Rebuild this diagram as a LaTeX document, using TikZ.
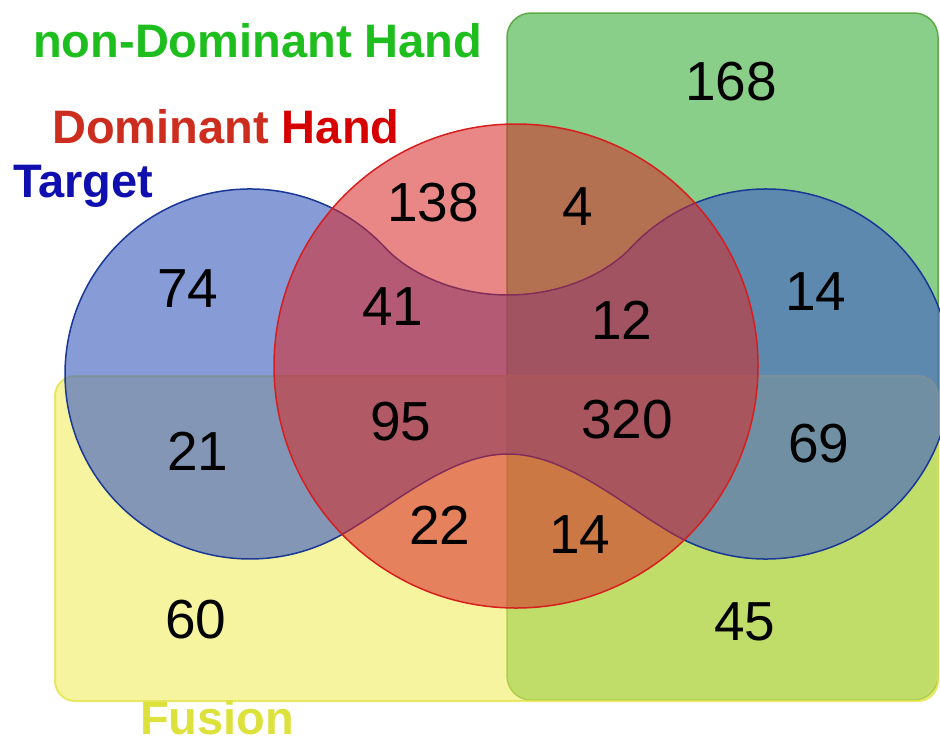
\documentclass[tikz,border=0pt]{standalone}
\usepackage{fontspec}
\setmainfont{Liberation Sans}
\definecolor{gfill}{RGB}{58,173,58}
\definecolor{gline}{RGB}{95,170,70}
\definecolor{yfill}{RGB}{240,235,80}
\definecolor{yline}{RGB}{228,228,75}
\definecolor{bfill}{RGB}{71,101,194}
\definecolor{bline}{RGB}{25,55,150}
\definecolor{rfill}{RGB}{215,40,40}
\definecolor{rline}{RGB}{215,30,30}
\definecolor{labg}{RGB}{30,190,30}
\definecolor{labr}{RGB}{205,45,30}
\definecolor{labrr}{RGB}{215,0,0}
\definecolor{labb}{RGB}{15,15,175}
\definecolor{laby}{RGB}{220,225,60}
\begin{document}
\begin{tikzpicture}[x=1pt,y=-1pt,
  num/.style={font=\fontsize{55}{60}\selectfont, inner sep=0pt, text=black},
  lab/.style={font=\bfseries\fontsize{47}{50}\selectfont, inner sep=0pt, anchor=base west},
  gset/.style={fill=gfill, fill opacity=0.6, draw=gline, line width=1.5pt, rounded corners=24pt},
  yset/.style={fill=yfill, fill opacity=0.55, draw=yline, draw opacity=0.8, line width=2pt, rounded corners=20pt},
  bset/.style={fill=bfill, fill opacity=0.65, draw=bline, line width=1.5pt},
  rset/.style={fill=rfill, fill opacity=0.56, draw=rline, line width=1.5pt}]
\useasboundingbox (0,0) rectangle (940,745);
% non-Dominant Hand (green)
\path[gset] (507,13) rectangle (938,700);
% Fusion (yellow)
\path[yset] (55,376) rectangle (938,701);
% Target (blue)
\path[bset] (385.3,247.8) arc[start angle=-43, end angle=-300, radius=185]
  .. controls (394.5,504.2) and (450,454) .. (508,454)
  .. controls (566,454) and (621.5,504.2) .. (673.5,534.2)
  arc[start angle=120, end angle=-137, radius=185]
  .. controls (606.8,273.4) and (561,295) .. (508,295)
  .. controls (455,295) and (409.2,273.4) .. (385.3,247.8) -- cycle;
% Dominant Hand (red)
\path[rset] (516,366) circle[radius=242];
% labels
\node[lab, text=labg] (lng) at (33,57) {non-Dominant Hand};
\node[lab] (ldh) at (52,143) {\textcolor{labr}{Dominant} \textcolor{labrr}{Hand}};
\node[lab, text=labb] (ltg) at (13,197) {Target};
\node[lab, text=laby] (lfu) at (140,734) {Fusion};
% numbers
\node[num] (a168) at (731,82) {168};
\node[num] (a138) at (433,203) {138};
\node[num] (a4) at (578,207) {4};
\node[num] (a74) at (188,289) {74};
\node[num] (a41) at (393,307) {41};
\node[num] (a12) at (622,320) {12};
\node[num] (a14r) at (816,292) {14};
\node[num] (a95) at (401,422) {95};
\node[num] (a320) at (627,420) {320};
\node[num] (a21) at (198,451) {21};
\node[num] (a69) at (819,444) {69};
\node[num] (a22) at (440,525) {22};
\node[num] (a14b) at (580,535) {14};
\node[num] (a60) at (196,620) {60};
\node[num] (a45) at (745,622) {45};
\end{tikzpicture}
\end{document}
